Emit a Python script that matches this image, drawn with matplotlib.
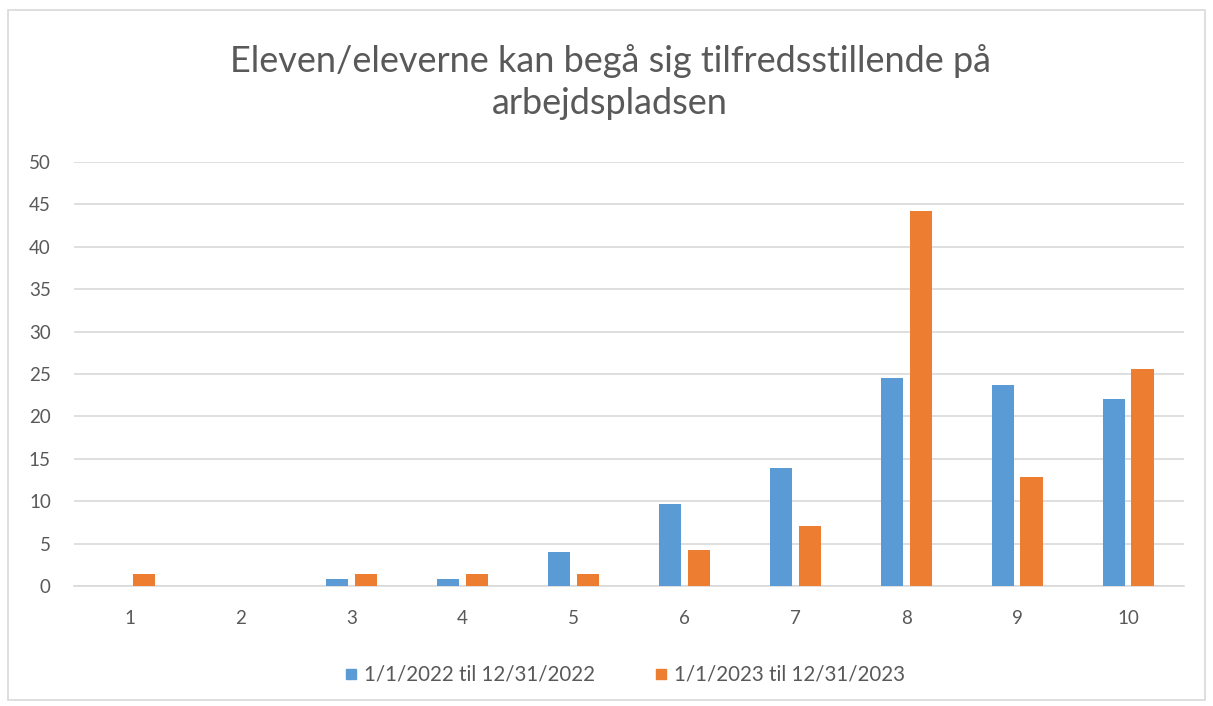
import numpy as np
import matplotlib.pyplot as plt
from matplotlib.patches import Rectangle
from matplotlib.lines import Line2D

categories = [1, 2, 3, 4, 5, 6, 7, 8, 9, 10]
serie_2022 = [0, 0, 0.8, 0.8, 4.0, 9.7, 13.9, 24.5, 23.7, 22.1]
serie_2023 = [1.4, 0, 1.4, 1.4, 1.4, 4.2, 7.1, 44.2, 12.8, 25.6]
labels = ["1/1/2022 til 12/31/2022", "1/1/2023 til 12/31/2023"]
title = "Eleven/eleverne kan begå sig tilfredsstillende på\narbejdspladsen"

BLUE = "#5B9BD5"
ORANGE = "#ED7D31"
TXT = "#595959"
GRID = "#D9D9D9"

plt.rcParams["font.family"] = ["Lato", "DejaVu Sans"]

fig = plt.figure(figsize=(12.13, 7.06), dpi=100)
fig.patches.append(Rectangle((0.007, 0.008), 0.986, 0.978, transform=fig.transFigure,
                             fill=False, edgecolor=GRID, linewidth=1.2))

ax = fig.add_axes([0.0614, 0.170, 0.9143, 0.6005])
x = np.array(categories)
w = 0.2
off = 0.13
ax.bar(x - off, serie_2022, width=w, color=BLUE, zorder=3)
ax.bar(x + off, serie_2023, width=w, color=ORANGE, zorder=3)

ax.set_xlim(0.5, 10.5)
ax.set_ylim(0, 50)
ax.set_yticks(range(0, 51, 5))
ax.set_xticks(categories)
ax.grid(axis="y", color=GRID, linewidth=1.2, zorder=0)
for s in ["top", "right", "left"]:
    ax.spines[s].set_visible(False)
ax.spines["bottom"].set_color(GRID)
ax.spines["bottom"].set_linewidth(1.2)
ax.tick_params(length=0, labelsize=13.5, colors=TXT)
ax.tick_params(axis="y", pad=17)
ax.tick_params(axis="x", pad=17)

fig.text(0.503, 0.884, title, ha="center", va="center", fontsize=26,
         color=TXT, linespacing=1.35)

# firkantede markører som i Excel-forklaringen
handles = [Line2D([], [], marker="s", linestyle="", color=c, markersize=7.5)
           for c in (BLUE, ORANGE)]
fig.legend(handles, labels, loc="center", bbox_to_anchor=(0.515, 0.044), ncol=2,
           frameon=False, fontsize=14.8, handlelength=0.6, handletextpad=0.35,
           columnspacing=2.9, labelcolor=TXT)

fig.savefig("out.png", dpi=100)
